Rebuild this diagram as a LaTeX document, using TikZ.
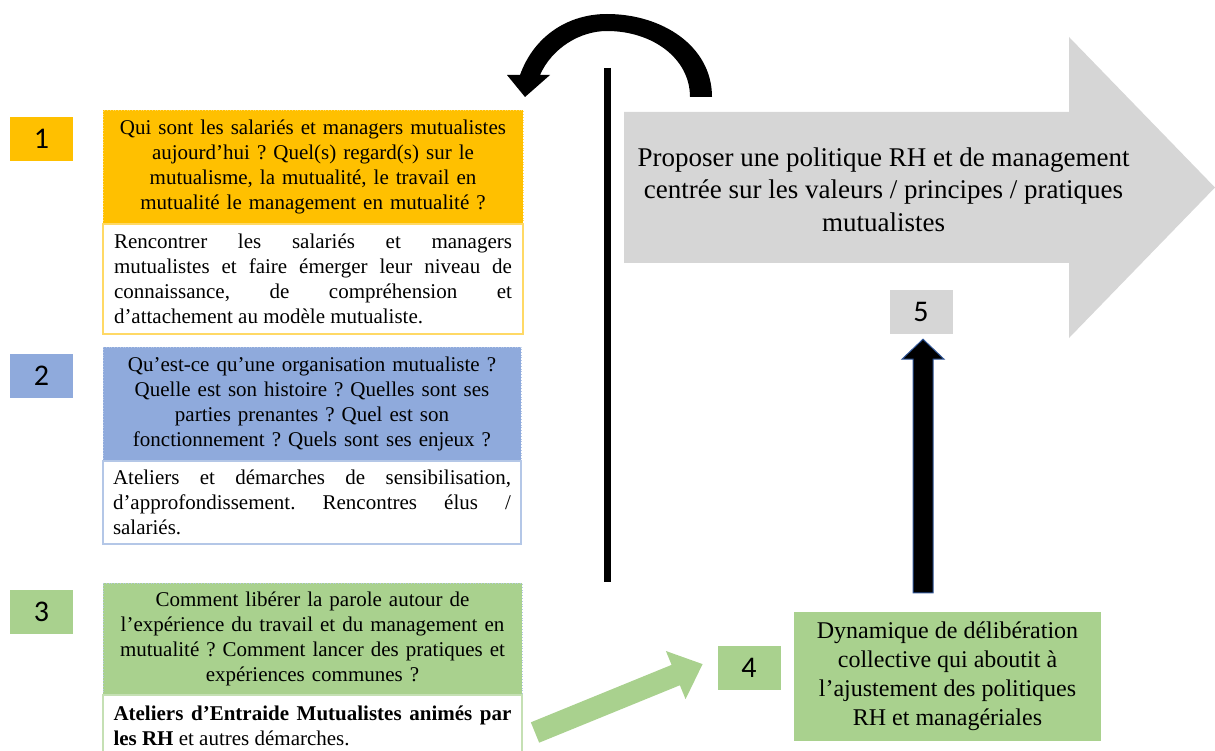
\documentclass[tikz,border=0pt]{standalone}
\usepackage{fontspec}
\setmainfont{Liberation Serif}
\newfontfamily\labfont{Carlito}
\usetikzlibrary{calc}
\definecolor{orangeA}{HTML}{FFC000}
\definecolor{orangeB}{HTML}{FFD966}
\definecolor{blueA}{HTML}{8FAADC}
\definecolor{blueB}{HTML}{B4C7E7}
\definecolor{greenA}{HTML}{A9D18E}
\definecolor{greenB}{HTML}{C5E0B4}
\definecolor{grayA}{HTML}{D6D6D6}
\definecolor{outlineblue}{HTML}{2F5597}
\tolerance=10000
\hbadness=10000
\frenchspacing
\begin{document}
\begin{tikzpicture}[x=1pt,y=-1pt,
  lbl/.style={minimum width=63pt,minimum height=44pt,inner sep=0pt,
    font=\labfont\fontsize{30}{34}\selectfont},
  hdr/.style={minimum width=420pt,inner xsep=10pt,inner ysep=0pt,
    text width=400pt,align=center,line width=0.8pt,dotted,
    font=\fontsize{21}{25}\selectfont},
  bodybox/.style={minimum width=420pt,inner xsep=11pt,inner ysep=0pt,
    text width=398pt,align=justify,fill=white,line width=1.2pt,
    font=\fontsize{21}{25}\selectfont},
  bigtext/.style={align=center,inner sep=0pt,font=\fontsize{27}{32.5}\selectfont},
  dyntext/.style={align=center,inner sep=0pt,font=\fontsize{24}{29}\selectfont}
]
\useasboundingbox (0,0) rectangle (1215,751);

% ---- left column -----------------------------------------------------
\node[lbl,fill=orangeA] (l1) at (41.5,139) {1};
\node[hdr,fill=orangeA,draw=orangeB,minimum height=114pt] (h1) at (313,167)
  {Qui sont les salariés et managers mutualistes\\ aujourd’hui ? Quel(s) regard(s) sur le\\ mutualisme, la mutualité, le travail en\\ mutualité le management en mutualité ?};
\node[bodybox,draw=orangeB,minimum height=110pt] (b1) at (313,279)
  {Rencontrer les salariés et managers\linebreak mutualistes et faire émerger leur niveau de\linebreak connaissance, de compréhension et\linebreak d’attachement au modèle mutualiste.};

\node[lbl,fill=blueA] (l2) at (41.5,375.5) {2};
\node[hdr,fill=blueA,draw=blueB,minimum height=114pt,minimum width=418pt,inner xsep=9pt] (h2) at (312,404)
  {Qu’est-ce qu’une organisation mutualiste ?\\ Quelle est son histoire ? Quelles sont ses\\ parties prenantes ? Quel est son\\ fonctionnement ? Quels sont ses enjeux ?};
\node[bodybox,draw=blueB,minimum height=83pt,minimum width=418pt,inner xsep=10pt] (b2) at (312,502.5)
  {Ateliers et démarches de sensibilisation,\linebreak d’approfondissement. Rencontres élus /\linebreak salariés.};

\node[lbl,fill=greenA] (l3) at (41.5,612) {3};
\node[hdr,fill=greenA,draw=blueB,minimum height=112pt,minimum width=419pt,inner xsep=9.5pt] (h3) at (312.5,639)
  {Comment libérer la parole autour de\\ l’expérience du travail et du management en\\ mutualité ? Comment lancer des pratiques et\\ expériences communes ?};
\draw[greenB,line width=1.2pt,fill=white] (103,695) rectangle (522,760);
\node[bodybox,draw=none,fill=none,minimum width=419pt,inner xsep=10.5pt] (b3) at (312.5,726)
  {\textbf{Ateliers d’Entraide Mutualistes animés par}\linebreak \textbf{les RH} et autres démarches.};

% ---- vertical bar and curved arrow -------------------------------------
\coordinate (vt) at (607.5,68);
\coordinate (vb) at (607.5,582);
\draw[line width=7pt] (vt) -- (vb);

\fill[black] (507,75) -- (520,75)
  .. controls (534,36) and (568,14) .. (607,14)
  .. controls (662,14) and (712,46) .. (712,97)
  -- (690,97)
  .. controls (690,58) and (652,31) .. (607,31)
  .. controls (580,31) and (552,48) .. (540,75)
  -- (550,75) -- (525,97) -- cycle;

% ---- big grey arrow ----------------------------------------------------
\fill[grayA] (624,112) -- (1069,112) -- (1069,37) -- (1215,187.5)
  -- (1069,338) -- (1069,263) -- (624,263) -- cycle;
\node[bigtext] (goal) at (883.5,189.5)
  {Proposer une politique RH et de management\\ centrée sur les valeurs / principes / pratiques\\ mutualistes};

% ---- right bottom --------------------------------------------------------
\node[lbl,fill=grayA] (l5) at (921,312) {5};
\node[lbl,fill=greenA] (l4) at (749,668) {4};
\node[dyntext,fill=greenA,minimum width=307pt,minimum height=129pt] (dyn) at (947.5,676.5)
  {Dynamique de délibération\\ collective qui aboutit à\\ l’ajustement des politiques\\ RH et managériales};

% black up arrow from dyn to 5
\draw[fill=black,draw=outlineblue,line width=1pt]
  ($(dyn.north)+(-34.5,-19)$) -- ($(l5.south)+(-8,25)$) -- ($(l5.south)+(-19,25)$)
  -- ($(l5.south)+(2,5)$) -- ($(l5.south)+(23,25)$) -- ($(l5.south)+(12,25)$)
  -- ($(dyn.north)+(-14.5,-19)$) -- cycle;

% green arrow from box 3 to 4
\begin{scope}[shift={(535,732.5)},rotate=22.2]
  \fill[greenA] (0,-11) -- (152,-11) -- (152,-26) -- (181,0) -- (152,26) -- (152,11) -- (0,11) -- cycle;
\end{scope}
\end{tikzpicture}
\end{document}
